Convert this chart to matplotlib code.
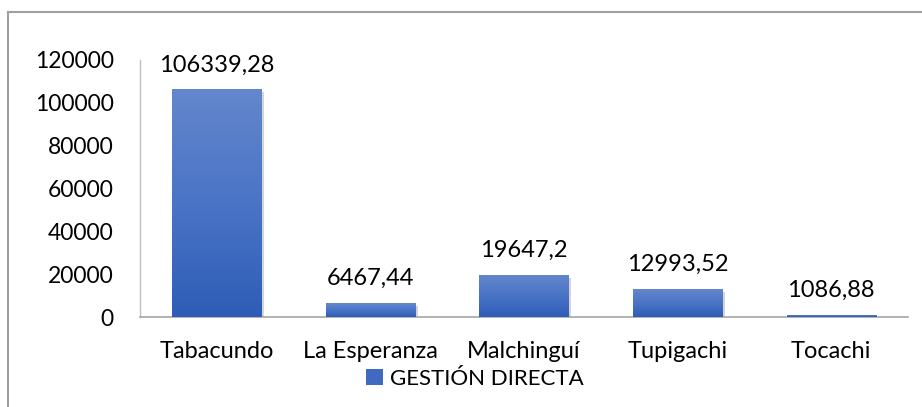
import numpy as np
import matplotlib
matplotlib.use("Agg")
import matplotlib.pyplot as plt
import matplotlib.patheffects as pe
from matplotlib.colors import LinearSegmentedColormap
from matplotlib.patches import Patch
from matplotlib.lines import Line2D

# data
parroquias = ["Tabacundo", "La Esperanza", "Malchinguí", "Tupigachi", "Tocachi"]
gestion_directa = [106339.28, 6467.44, 19647.2, 12993.52, 1086.88]
etiquetas = ["106339,28", "6467,44", "19647,2", "12993,52", "1086,88"]
yticks = [0, 20000, 40000, 60000, 80000, 100000, 120000]
serie = "GESTIÓN DIRECTA"

plt.rcParams["font.family"] = ["Lato", "DejaVu Sans"]

fig = plt.figure(figsize=(9.22, 4.07), dpi=100)
ax = fig.add_axes([140 / 922, 1 - 317 / 407, 768 / 922, 257 / 407])

x = np.arange(len(parroquias))
bars = ax.bar(x, gestion_directa, width=0.58, color="#4472c4", zorder=2,
              path_effects=[pe.SimplePatchShadow(offset=(2, -2), alpha=0.25,
                                                 shadow_rgbFace="#555555"),
                            pe.Normal()])

# vertical gradient, lighter at top of each bar
cmap = LinearSegmentedColormap.from_list("azul", ["#2e5db7", "#4a74c6", "#6487cc"])
grad = np.linspace(0, 1, 256).reshape(-1, 1)
for b in bars:
    x0, w, h = b.get_x(), b.get_width(), b.get_height()
    im = ax.imshow(grad, extent=[x0, x0 + w, 0, h], origin="lower",
                   aspect="auto", cmap=cmap, zorder=3)
    im.set_clip_path(b)

ax.bar_label(bars, labels=etiquetas, padding=10, fontsize=17, color="black")

ax.set_xlim(-0.5, len(parroquias) - 0.5)
ax.set_ylim(0, 120000)
ax.set_yticks(yticks)
ax.set_yticklabels([str(v) for v in yticks])
ax.set_xticks(x)
ax.set_xticklabels(parroquias)
ax.tick_params(axis="y", length=0, pad=19, labelsize=16.5)
ax.tick_params(axis="x", length=0, pad=17, labelsize=17)

for s in ["top", "right"]:
    ax.spines[s].set_visible(False)
ax.spines["left"].set_color("#bfbfbf")
ax.spines["bottom"].set_color("#a6a6a6")
ax.spines["left"].set_linewidth(1.0)
ax.spines["bottom"].set_linewidth(1.2)

handle = Patch(facecolor="#4069c0", edgecolor="none")
fig.legend([handle], [serie], loc="center", bbox_to_anchor=(475 / 922, 1 - 379 / 407),
           frameon=False, fontsize=16, handlelength=0.75, handleheight=0.75,
           handletextpad=0.3, borderpad=0)

# outer chart frame (cut off on right and bottom)
fig.add_artist(Line2D([8 / 922, 8 / 922], [0, 1 - 12 / 407], transform=fig.transFigure,
                      color="#a0a0a0", lw=1.5))
fig.add_artist(Line2D([8 / 922, 1], [1 - 12 / 407, 1 - 12 / 407], transform=fig.transFigure,
                      color="#a0a0a0", lw=1.5))

fig.savefig("out.png", dpi=100)
